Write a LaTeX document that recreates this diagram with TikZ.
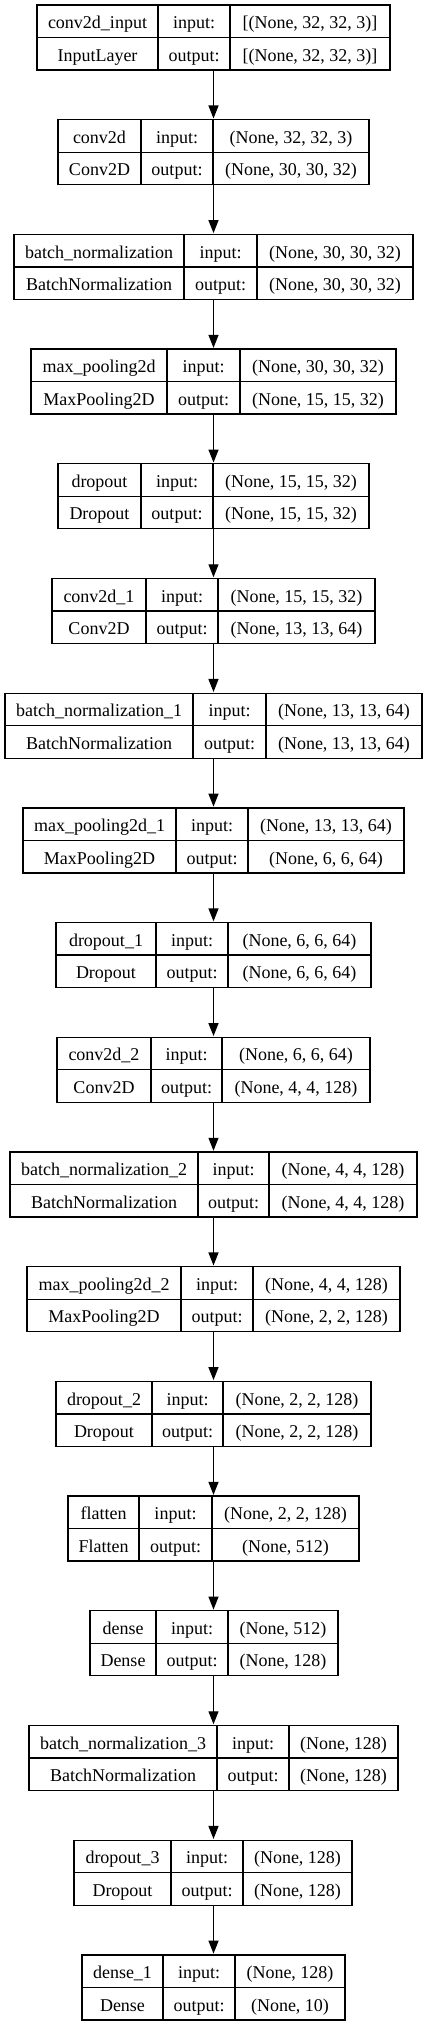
\documentclass[tikz,border=0pt]{standalone}
\usepackage{fontspec}
\setmainfont{Liberation Serif}
\usetikzlibrary{arrows.meta}
\tikzset{
  boxframe/.style={draw=black, line width=1.3pt, inner sep=0pt, fill=none},
  divline/.style={draw=black, line width=1.3pt},
  celltxt/.style={anchor=base, inner sep=0pt, font=\fontsize{18}{20}\selectfont},
  arr/.style={draw=black, line width=1.3pt, -{Triangle[length=13pt,width=10pt]}, shorten >=0.6pt}
}
\newcommand\layerbox[9]{%
  \pgfmathsetmacro\Ty{-(5+114.7*#1)}%
  \pgfmathsetmacro\By{\Ty-65}%
  \pgfmathsetmacro\My{\Ty-32.5}%
  \pgfmathsetmacro\Cx{(#2+#5)/2}%
  \pgfmathsetmacro\Wd{#5-#2}%
  \pgfmathsetmacro\Ua{\Ty-23.6}%
  \pgfmathsetmacro\La{\Ty-56.1}%
  \pgfmathsetmacro\Xa{(#2+#3)/2}%
  \pgfmathsetmacro\Xb{(#3+#4)/2}%
  \pgfmathsetmacro\Xc{(#4+#5)/2}%
  \node[boxframe, minimum width=\Wd pt, minimum height=65pt] (b#1) at (\Cx,\My) {};
  \draw[divline] (b#1.west) -- (b#1.east);
  \draw[divline] (#3,\Ty) -- (#3,\By);
  \draw[divline] (#4,\Ty) -- (#4,\By);
  \node[celltxt] (n#1) at (\Xa,\Ua) {#6};
  \node[celltxt] (c#1) at (\Xa,\La) {#7};
  \node[celltxt] (i#1) at (\Xb,\Ua) {input:};
  \node[celltxt] (o#1) at (\Xb,\La) {output:};
  \node[celltxt] (p#1) at (\Xc,\Ua) {#8};
  \node[celltxt] (q#1) at (\Xc,\La) {#9};
}
\begin{document}
\begin{tikzpicture}[x=1pt,y=1pt]
\useasboundingbox (0,0) rectangle (428,-2027);
\fill[white] (0,0) rectangle (428,-2027);
\coordinate (axis) at (213.5,0);
\layerbox{0}{37}{158}{230}{390}{conv2d\_input}{InputLayer}{[(None, 32, 32, 3)]}{[(None, 32, 32, 3)]}
\layerbox{1}{58}{141}{213}{369}{conv2d}{Conv2D}{(None, 32, 32, 3)}{(None, 30, 30, 32)}
\layerbox{2}{14}{184}{257}{413}{batch\_normalization}{BatchNormalization}{(None, 30, 30, 32)}{(None, 30, 30, 32)}
\layerbox{3}{31}{167}{240}{396}{max\_pooling2d}{MaxPooling2D}{(None, 30, 30, 32)}{(None, 15, 15, 32)}
\layerbox{4}{58}{141}{213}{369}{dropout}{Dropout}{(None, 15, 15, 32)}{(None, 15, 15, 32)}
\layerbox{5}{52}{146}{218}{375}{conv2d\_1}{Conv2D}{(None, 15, 15, 32)}{(None, 13, 13, 64)}
\layerbox{6}{5}{193}{266}{422}{batch\_normalization\_1}{BatchNormalization}{(None, 13, 13, 64)}{(None, 13, 13, 64)}
\layerbox{7}{23}{176}{248}{404}{max\_pooling2d\_1}{MaxPooling2D}{(None, 13, 13, 64)}{(None, 6, 6, 64)}
\layerbox{8}{56}{156}{228}{371}{dropout\_1}{Dropout}{(None, 6, 6, 64)}{(None, 6, 6, 64)}
\layerbox{9}{57}{151}{222}{370}{conv2d\_2}{Conv2D}{(None, 6, 6, 64)}{(None, 4, 4, 128)}
\layerbox{10}{10}{198}{269}{417}{batch\_normalization\_2}{BatchNormalization}{(None, 4, 4, 128)}{(None, 4, 4, 128)}
\layerbox{11}{27}{181}{253}{400}{max\_pooling2d\_2}{MaxPooling2D}{(None, 4, 4, 128)}{(None, 2, 2, 128)}
\layerbox{12}{56}{152}{223}{371}{dropout\_2}{Dropout}{(None, 2, 2, 128)}{(None, 2, 2, 128)}
\layerbox{13}{68}{139}{212}{359}{flatten}{Flatten}{(None, 2, 2, 128)}{(None, 512)}
\layerbox{14}{90}{156}{228}{338}{dense}{Dense}{(None, 512)}{(None, 128)}
\layerbox{15}{29}{217}{289}{398}{batch\_normalization\_3}{BatchNormalization}{(None, 128)}{(None, 128)}
\layerbox{16}{74}{171}{243}{352}{dropout\_3}{Dropout}{(None, 128)}{(None, 128)}
\layerbox{17}{82}{163}{235}{345}{dense\_1}{Dense}{(None, 128)}{(None, 10)}
\foreach \a [evaluate=\a as \b using int(\a+1)] in {0,...,16}{
  \draw[arr] (b\a.south -| axis) -- (b\b.north -| axis);
}
\end{tikzpicture}
\end{document}
